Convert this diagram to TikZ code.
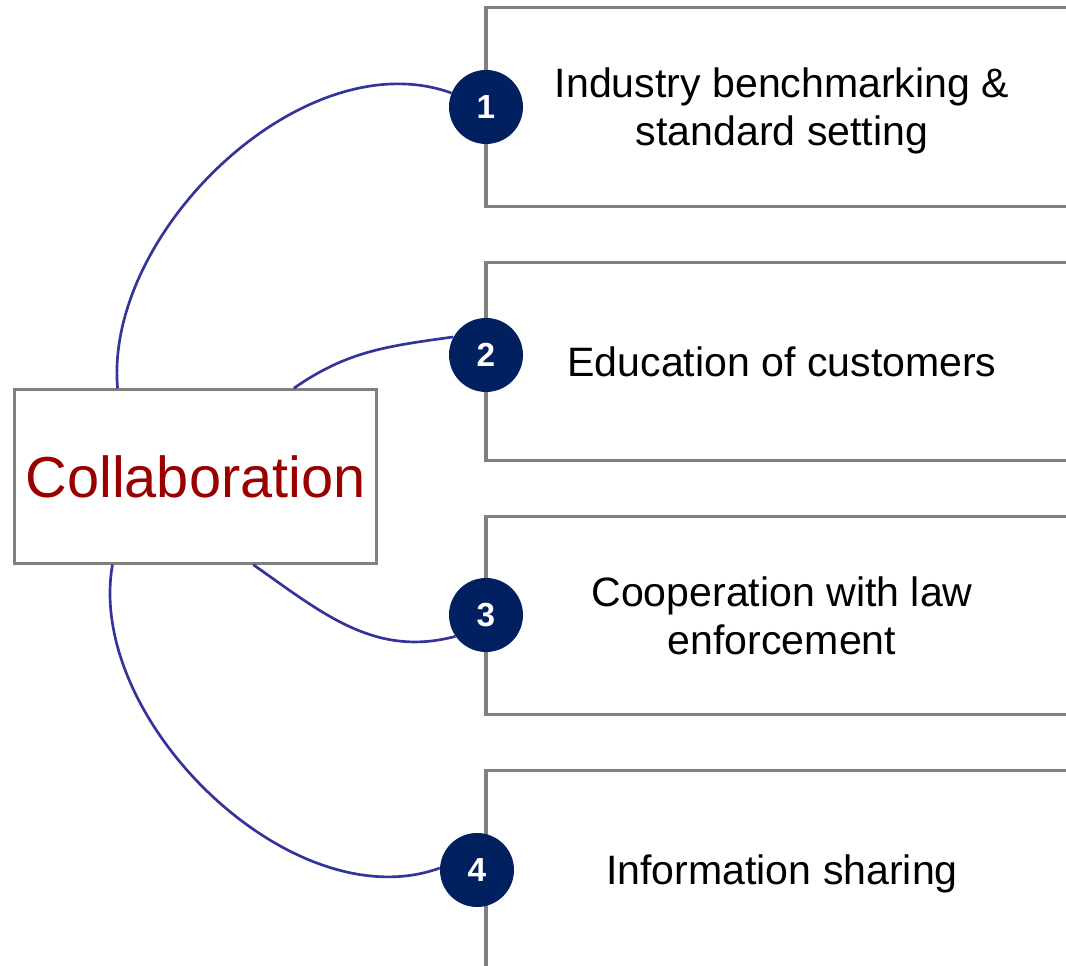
\documentclass[tikz,border=0pt]{standalone}
\usepackage{fontspec}
\setmainfont{Liberation Sans}
\usepackage{tikz}
\usetikzlibrary{calc}
\definecolor{linkblue}{HTML}{333399}
\definecolor{numnavy}{HTML}{002060}
\definecolor{boxgrey}{HTML}{808080}
\definecolor{hubred}{HTML}{990000}
\tikzset{item/.style = {draw = boxgrey, line width = 2.4pt, rectangle, minimum width = 444pt, minimum height = 149pt,
                        align = center, inner sep = 0, font = \fontsize{30.8}{36}\selectfont}}
\tikzset{hub/.style = {draw = boxgrey, fill = white, line width = 2.4pt, rectangle, minimum width = 272pt,
                       minimum height = 130pt, inner sep = 0, text = hubred, font = \fontsize{43.3}{50}\selectfont}}
\tikzset{num/.style = {fill = numnavy, circle, inner sep = 0, minimum size = 55.5pt, text = white,
                       font = \fontsize{25}{30}\selectfont\bfseries}}
\tikzset{link/.style = {draw = linkblue, line width = 2pt}}

\begin{document}
\begin{tikzpicture}[x = 0.75pt, y = 0.75pt]
      \clip (0, 0) rectangle (1066, 966);
      \node [item] (b1) at (782, 859) {\rule{0pt}{28.5pt}Industry benchmarking \&\\standard setting};
      \node [item] (b2) at (782, 604.5) {Education of customers};
      \node [item] (b3) at (782, 350.5) {Cooperation with law\\enforcement};
      \node [item] (b4) at (782, 96.5) {\rule{0pt}{28.5pt}Information sharing};
      \node [hub] (hub) at (195.5, 489.5) {Collaboration};
      \node [num] (n1) at (486, 859) {1};
      \node [num] (n2) at (486, 611) {2};
      \node [num] (n3) at (486, 351) {3};
      \node [num] (n4) at (477, 96) {4};
      \draw [link] ($(hub.north west)!0.287!(hub.north east)$) to [out = 95, in = 160, looseness = 0.9] (n1.158);
      \draw [link] ($(hub.north west)!0.769!(hub.north east)$) to [out = 35, in = 188] (n2.151);
      \draw [link] ($(hub.south west)!0.658!(hub.south east)$) to [out = -35, in = 195] (n3.215);
      \draw [link] ($(hub.south west)!0.273!(hub.south east)$) to [out = -100, in = 200, looseness = 0.9] (n4.177);
\end{tikzpicture}
\end{document}
